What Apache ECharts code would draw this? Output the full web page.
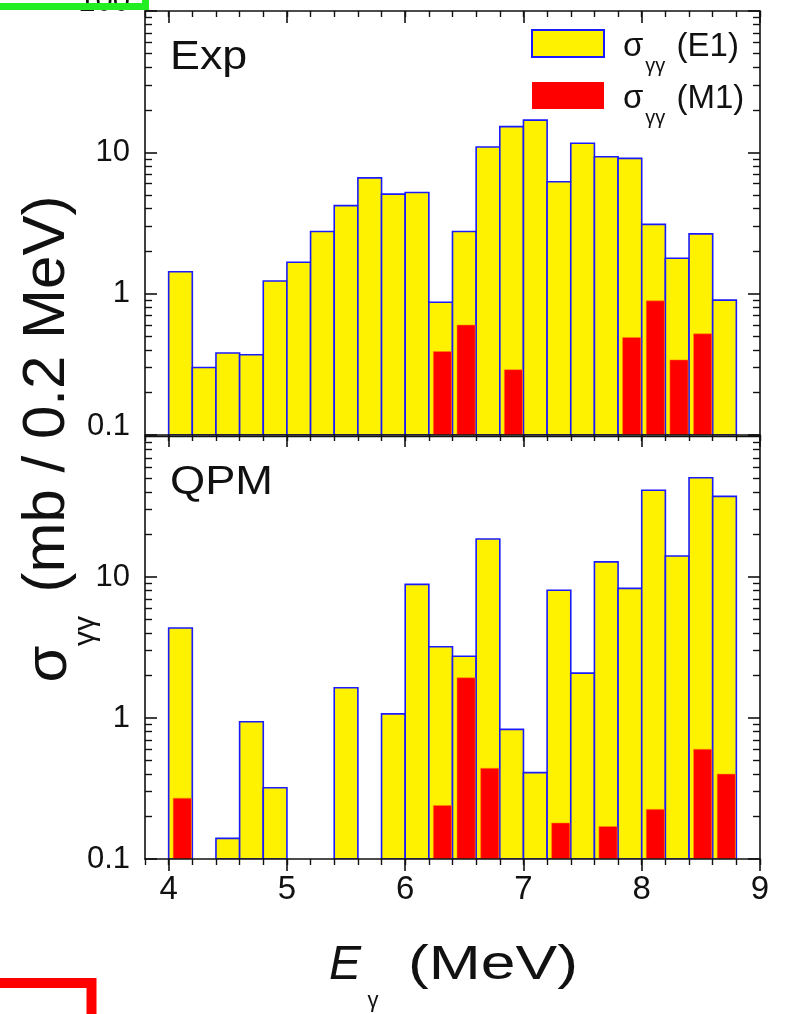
<!DOCTYPE html>
<html>
<head>
<meta charset="utf-8">
<script src="https://cdn.jsdelivr.net/npm/echarts@6/dist/echarts.min.js"></script>
<style>
html,body{margin:0;padding:0;background:#ffffff;}
#chart{width:786px;height:1014px;}
</style>
</head>
<body>
<div id="chart"></div>
<script>
// ---------------- data ----------------
const binCenters = [4.1,4.3,4.5,4.7,4.9,5.1,5.3,5.5,5.7,5.9,6.1,6.3,6.5,6.7,6.9,7.1,7.3,7.5,7.7,7.9,8.1,8.3,8.5,8.7];
const expE1 = [1.43,0.30,0.38,0.37,1.23,1.67,2.75,4.2,6.6,5.06,5.2,0.87,2.75,10.9,15.2,16.9,6.2,11.6,9.3,9.06,3.09,1.78,2.65,0.90];
const expM1 = [null,null,null,null,null,null,null,null,null,null,null,0.39,0.60,null,0.29,null,null,null,null,0.49,0.89,0.34,0.52,null];
const qpmE1 = [4.35,null,0.14,0.94,0.32,null,null,1.64,null,1.07,8.87,3.2,2.74,18.6,0.83,0.41,8.05,2.08,12.8,8.3,41.2,14.1,50.6,37.3];
const qpmM1 = [0.27,null,null,null,null,null,null,null,null,null,null,0.24,1.93,0.44,null,null,0.18,null,0.17,null,0.225,null,0.60,0.40];
const xMajorTicks = [4,5,6,7,8,9];
const yMinorTicks = [0.2,0.3,0.4,0.5,0.6,0.7,0.8,0.9,2,3,4,5,6,7,8,9,20,30,40,50,60,70,80,90];
const panelLabels = ['Exp','QPM'];
const seriesNames = ['E1','M1'];

// ---------------- style ----------------
const FONT = '"Liberation Sans", Arial, Helvetica, sans-serif';
const AX = '#111111';
const YELLOW = '#fff200';
const BLUE = '#1a1aff';
const RED = '#ff0000';
const X_MIN = 3.8, X_MAX = 9, Y_MIN = 0.1, Y_MAX = 100;

const grids = [
  {left:145, top:11, width:615, height:424, outerBoundsMode:'none', containLabel:false},
  {left:145, top:436, width:615, height:423, outerBoundsMode:'none', containLabel:false}
];

function lineStyle(w){ return {color:AX, width:w}; }

function xAxisDef(g, pos, opts){
  return Object.assign({
    gridIndex:g, type:'value', min:X_MIN, max:X_MAX, interval:0.2, position:pos, z:5,
    axisLine:{show:false, onZero:false, lineStyle:lineStyle(1.6)},
    axisTick:{show:false},
    axisLabel:{show:false},
    splitLine:{show:false}
  }, opts);
}
function yAxisDef(g, pos, opts){
  return Object.assign({
    gridIndex:g, type:'log', logBase:10, min:Y_MIN, max:Y_MAX, position:pos, z:5,
    axisLine:{show:false, onZero:false, lineStyle:lineStyle(1.6)},
    axisTick:{show:false},
    axisLabel:{show:false},
    splitLine:{show:false}
  }, opts);
}

const xAxes = [];
const yAxes = [];
for (let g = 0; g < 2; g++) {
  // bottom major (main data axis)
  xAxes.push(xAxisDef(g, 'bottom', {
    axisLine:{show:true, onZero:false, lineStyle:lineStyle(1.6)},
    axisTick:{show:true, inside:false, length:12, customValues:xMajorTicks, lineStyle:lineStyle(1.6)},
    axisLabel: g === 1 ? {show:true, customValues:xMajorTicks, fontSize:33, fontFamily:FONT, color:AX, margin:14,
      formatter: v => String(Math.round(v))} : {show:false}
  }));
  // bottom minor
  xAxes.push(xAxisDef(g, 'bottom', {
    axisTick:{show:true, inside:false, length:6, lineStyle:lineStyle(1.4)}
  }));
  if (g === 0) {
    // top major
    xAxes.push(xAxisDef(g, 'top', {
      axisLine:{show:true, onZero:false, lineStyle:lineStyle(1.6)},
      axisTick:{show:true, inside:true, length:12, customValues:xMajorTicks, lineStyle:lineStyle(1.6)}
    }));
    // top minor
    xAxes.push(xAxisDef(g, 'top', {
      axisTick:{show:true, inside:true, length:6, lineStyle:lineStyle(1.4)}
    }));
  } else {
    xAxes.push(xAxisDef(g, 'top', {
      axisLine:{show:true, onZero:false, lineStyle:lineStyle(1.4)}
    }));
  }

  // left major with labels
  const labelCfg = {
    show:true, fontSize:31, fontFamily:FONT, color:AX, margin:15,
    showMaxLabel: g === 0,
    formatter: function (v) {
      const s = String(v);
      if (g === 0 && (v < 0.5 || v > 50)) return '{e|' + s + '}';
      return s;
    },
    rich: {e:{fontSize:31, fontFamily:FONT, color:AX, padding:[0,0,17,0]}}
  };
  yAxes.push(yAxisDef(g, 'left', {
    axisLine:{show:true, onZero:false, lineStyle:lineStyle(1.6)},
    axisTick:{show:true, inside:true, length:12, lineStyle:lineStyle(1.6)},
    axisLabel: labelCfg
  }));
  yAxes.push(yAxisDef(g, 'left', {
    axisTick:{show:true, inside:true, length:7, customValues:yMinorTicks, lineStyle:lineStyle(1.4)}
  }));
  yAxes.push(yAxisDef(g, 'right', {
    axisLine:{show:true, onZero:false, lineStyle:lineStyle(1.6)},
    axisTick:{show:true, inside:true, length:12, lineStyle:lineStyle(1.6)}
  }));
  yAxes.push(yAxisDef(g, 'right', {
    axisTick:{show:true, inside:true, length:7, customValues:yMinorTicks, lineStyle:lineStyle(1.4)}
  }));
}
// axis indices of the main data axes
const xMain = [0, 4];
const yMain = [0, 4];

function barItem(leftOff, rightOff, fill, stroke, lw) {
  return function (params, api) {
    const x = api.value(0);
    const v = api.value(1);
    const a = api.coord([x - leftOff, v]);
    const b = api.coord([x + rightOff, Y_MIN]);
    return {
      type:'rect',
      shape:{x:a[0], y:a[1], width:b[0]-a[0], height:b[1]-a[1]},
      style:{fill:fill, stroke:stroke, lineWidth:lw}
    };
  };
}
function pairs(values) {
  return binCenters.map((x, i) => [x, values[i]]).filter(d => d[1] != null);
}

const series = [];
[[expE1, expM1], [qpmE1, qpmM1]].forEach(function (vals, g) {
  series.push({
    type:'custom', name:seriesNames[0], xAxisIndex:xMain[g], yAxisIndex:yMain[g], clip:true, z:2,
    itemStyle:{color:YELLOW, borderColor:BLUE, borderWidth:1.6},
    encode:{x:0, y:1},
    renderItem: barItem(0.1, 0.1, YELLOW, BLUE, 1.6),
    data: pairs(vals[0])
  });
  series.push({
    type:'custom', name:seriesNames[1], xAxisIndex:xMain[g], yAxisIndex:yMain[g], clip:true, z:3,
    itemStyle:{color:RED},
    encode:{x:0, y:1},
    renderItem: barItem(0.062, 0.092, RED, 'rgba(255,140,0,0.7)', 0.8),
    data: pairs(vals[1])
  });
});

const txt = (extra) => Object.assign({fontFamily:FONT, fill:AX}, extra);

const graphics = [
  // panel labels
  {type:'text', x:170, y:58, scaleX:1.12, style:txt({text:panelLabels[0], fontSize:40, align:'left', verticalAlign:'middle'})},
  {type:'text', x:170, y:483, scaleX:1.13, style:txt({text:panelLabels[1], fontSize:40, align:'left', verticalAlign:'middle'})},
  // x axis title
  {type:'text', x:345, y:966, style:txt({text:'E', fontSize:48, fontStyle:'italic', align:'center', verticalAlign:'middle'})},
  {type:'text', x:373, y:1001, style:txt({text:'γ', fontSize:22, align:'center', verticalAlign:'middle'})},
  {type:'text', x:493, y:966, scaleX:1.3, style:txt({text:'(MeV)', fontSize:48, align:'center', verticalAlign:'middle'})},
  // y axis title (rotated)
  {type:'text', x:49, y:664, rotation:Math.PI/2, style:txt({text:'σ', fontSize:60, align:'center', verticalAlign:'middle'})},
  {type:'text', x:86, y:631, rotation:Math.PI/2, style:txt({text:'γγ', fontSize:30, align:'center', verticalAlign:'middle'})},
  {type:'text', x:47, y:394, rotation:Math.PI/2, style:txt({text:'(mb / 0.2 MeV)', fontSize:60, align:'center', verticalAlign:'middle'})},
  // frame fragments visible in the picture
  {type:'rect', z:100, shape:{x:-20, y:-20, width:165.5, height:26.5}, style:{fill:'none', stroke:'#22ee22', lineWidth:7}},
  {type:'rect', z:100, shape:{x:-20, y:983, width:111.5, height:60}, style:{fill:'none', stroke:'#ff0000', lineWidth:10}}
];

const chart = echarts.init(document.getElementById('chart'), null, {renderer:'canvas'});
chart.setOption({
  animation:false,
  backgroundColor:'#ffffff',
  textStyle:{fontFamily:FONT},
  grid: grids,
  xAxis: xAxes,
  yAxis: yAxes,
  legend: {
    orient:'vertical', left:531, top:27, padding:0,
    itemWidth:72, itemHeight:27, itemGap:3, selectedMode:false,
    data:[
      {name:seriesNames[0], icon:'rect', itemStyle:{color:YELLOW, borderColor:BLUE, borderWidth:2}},
      {name:seriesNames[1], icon:'rect', itemStyle:{color:RED, borderWidth:0}}
    ],
    formatter: n => '{s|σ}{sub|γγ}{t| (' + n + ')}',
    textStyle:{
      fontFamily:FONT, color:AX,
      rich:{
        s:{fontSize:33, lineHeight:33, fontFamily:FONT, color:AX, verticalAlign:'top', padding:[3,0,0,14]},
        sub:{fontSize:20, lineHeight:20, fontFamily:FONT, color:AX, verticalAlign:'top', padding:[29,2,0,2]},
        t:{fontSize:33, lineHeight:33, fontFamily:FONT, color:AX, verticalAlign:'top', padding:[3,0,0,0]}
      }
    }
  },
  graphic: graphics,
  series: series
});
</script>
</body>
</html>
